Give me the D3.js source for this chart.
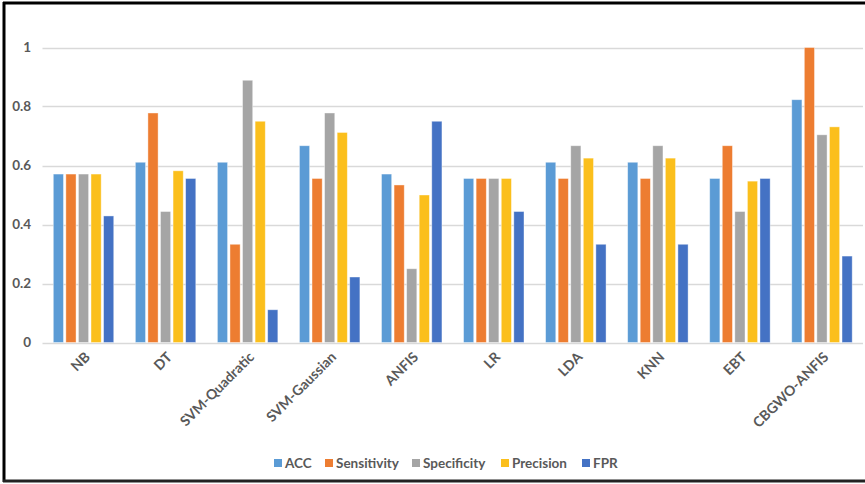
<!DOCTYPE html>
<html>
<head>
<meta charset="utf-8">
<script src="https://cdn.jsdelivr.net/npm/d3@7"></script>
<style>
  html, body { margin: 0; padding: 0; background: #fff; }
  svg { display: block; }
  text { font-family: Lato, "Open Sans", sans-serif; font-weight: 700; fill: #595959; }
</style>
</head>
<body>
<svg id="chart" width="865" height="484"></svg>
<script>
// Classifier comparison: five metrics per model
const categories = ["NB", "DT", "SVM-Quadratic", "SVM-Gaussian", "ANFIS", "LR", "LDA", "KNN", "EBT", "CBGWO-ANFIS"];
const seriesNames = ["ACC", "Sensitivity", "Specificity", "Precision", "FPR"];
const accValues         = [0.571, 0.611, 0.611, 0.667, 0.571, 0.556, 0.611, 0.611, 0.556, 0.823];
const sensitivityValues = [0.571, 0.778, 0.333, 0.556, 0.534, 0.556, 0.556, 0.556, 0.667, 1.000];
const specificityValues = [0.571, 0.444, 0.889, 0.778, 0.250, 0.556, 0.667, 0.667, 0.444, 0.704];
const precisionValues   = [0.571, 0.582, 0.750, 0.712, 0.500, 0.556, 0.625, 0.625, 0.547, 0.731];
const fprValues         = [0.429, 0.556, 0.111, 0.222, 0.750, 0.444, 0.333, 0.333, 0.556, 0.293];
const yTicks = [0, 0.2, 0.4, 0.6, 0.8, 1];
const yTickLabels = ["0", "0.2", "0.4", "0.6", "0.8", "1"];

const seriesValues = [accValues, sensitivityValues, specificityValues, precisionValues, fprValues];
const colors = ["#5B9BD5", "#ED7D31", "#A5A5A5", "#FBBF1C", "#4472C4"];

const svg = d3.select("#chart");

// Outer frame (left, top, bottom edges)
svg.append("line").attr("x1", 4).attr("x2", 4).attr("y1", 2).attr("y2", 482)
  .attr("stroke", "#000").attr("stroke-width", 3);
svg.append("line").attr("x1", 3).attr("x2", 865).attr("y1", 3).attr("y2", 3)
  .attr("stroke", "#000").attr("stroke-width", 3);
svg.append("line").attr("x1", 3).attr("x2", 865).attr("y1", 481).attr("y2", 481)
  .attr("stroke", "#222").attr("stroke-width", 3);

const plot = { left: 42.5, right: 863, top: 47.5, bottom: 342.5 };

const x = d3.scaleBand().domain(categories).range([plot.left, plot.right]).paddingInner(0).paddingOuter(0);
const y = d3.scaleLinear().domain([0, 1]).range([plot.bottom, plot.top]);
const xInner = d3.scaleBand().domain(seriesNames).range([10.8, x.bandwidth() - 10.8]).paddingInner(0.19).paddingOuter(0);

// Gridlines
svg.append("g").selectAll("line").data(yTicks).join("line")
  .attr("x1", plot.left).attr("x2", plot.right)
  .attr("y1", d => Math.round(y(d)) + 0.5).attr("y2", d => Math.round(y(d)) + 0.5)
  .attr("stroke", "#d9d9d9").attr("stroke-width", 1.3);

// Y axis labels
svg.append("g").selectAll("text").data(yTicks).join("text")
  .attr("x", 31).attr("y", d => y(d)).attr("dy", "0.35em")
  .attr("text-anchor", "end").attr("font-size", 13.5)
  .text((d, i) => yTickLabels[i]);

// Bars
const groups = svg.append("g").selectAll("g").data(categories).join("g")
  .attr("transform", d => `translate(${x(d)},0)`);

groups.selectAll("rect")
  .data((c, ci) => seriesNames.map((s, si) => ({ s, si, v: seriesValues[si][ci] })))
  .join("rect")
  .attr("x", d => xInner(d.s))
  .attr("width", xInner.bandwidth())
  .attr("y", d => y(d.v))
  .attr("height", d => y(0) - y(d.v))
  .attr("fill", d => colors[d.si])
  .attr("stroke", "#fff").attr("stroke-opacity", 0.5).attr("stroke-width", 0.8);

// Rotated category labels
svg.append("g").selectAll("text").data(categories).join("text")
  .attr("transform", d => `translate(${x(d) + x.bandwidth() / 2 + 4},${plot.bottom + 12}) rotate(-45)`)
  .attr("text-anchor", "end").attr("dy", "0.35em").attr("font-size", 14)
  .text(d => d);

// Legend
const legendX = [274, 325, 412, 501, 582];
const legend = svg.append("g").selectAll("g").data(seriesNames).join("g")
  .attr("transform", (d, i) => `translate(${legendX[i]},463)`);
legend.append("rect").attr("x", 0).attr("y", -4).attr("width", 8).attr("height", 8)
  .attr("fill", (d, i) => colors[i]);
legend.append("text").attr("x", 11).attr("dy", "0.35em").attr("font-size", 13.5).text(d => d);
</script>
</body>
</html>
